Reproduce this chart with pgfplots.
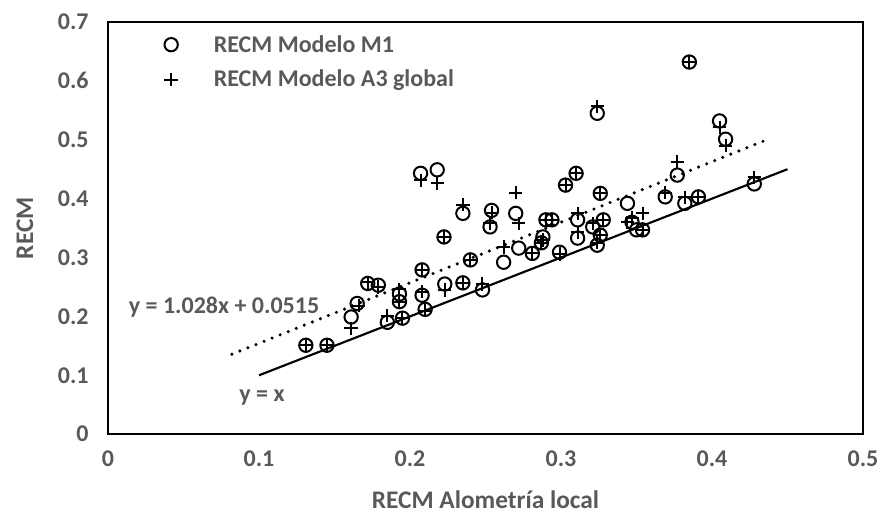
\documentclass[border=0pt]{standalone}
\usepackage{fontspec}
\setmainfont{Carlito}
\usepackage{pgfplots}
\pgfplotsset{compat=1.18}
\definecolor{txt}{HTML}{595959}
\newcommand{\lblfont}{\fontsize{18}{21}\selectfont\bfseries}
\newcommand{\axlblfont}{\fontsize{19}{22}\selectfont\bfseries}

\begin{document}
\begin{tikzpicture}
\useasboundingbox (-81pt,-60pt) rectangle (579.5pt,325.5pt);
\begin{axis}[
    scale only axis,
    width=566pt, height=309pt,
    xmin=0, xmax=0.5, ymin=0, ymax=0.7,
    xtick={0,0.1,0.2,0.3,0.4,0.5},
    ytick={0,0.1,0.2,0.3,0.4,0.5,0.6,0.7},
    major tick length=0pt,
    axis line style={line width=1.6pt},
    /pgf/number format/assume math mode=true,
    /pgf/number format/fixed,
    tick label style={font=\lblfont, text=txt},
    xticklabel style={yshift=-9pt},
    yticklabel style={xshift=-11pt},
    xlabel={RECM Alometría local},
    ylabel={RECM},
    label style={font=\axlblfont, text=txt},
    xlabel style={at={(axis description cs:0.5,-0.16)}, anchor=center},
    ylabel style={at={(axis description cs:-0.11,0.5)}, anchor=center},
    legend style={draw=none, fill=none, font=\lblfont, text=txt,
        at={(axis description cs:0.055,0.975)}, anchor=north west,
        row sep=8pt, inner sep=0pt},
    legend cell align=left,
    legend image code/.code={\path[draw=none, fill=none] (0pt,0pt) -- (46pt,0pt);
        \draw[#1] plot coordinates {(16pt,0pt)};},
]
% RECM Modelo M1
\addplot[only marks, mark=o, mark size=5pt, mark options={line width=1.5pt}] coordinates {
(0.131,0.151) (0.145,0.151) (0.161,0.199) (0.165,0.222) (0.172,0.256)
(0.179,0.253) (0.185,0.190) (0.193,0.238) (0.193,0.225) (0.195,0.197)
(0.208,0.279) (0.208,0.236) (0.210,0.212) (0.207,0.443) (0.218,0.449)
(0.2225,0.335) (0.223,0.255) (0.235,0.257) (0.235,0.375) (0.240,0.296)
(0.248,0.245) (0.254,0.380) (0.253,0.352) (0.262,0.292) (0.270,0.375)
(0.272,0.316) (0.281,0.307) (0.287,0.325) (0.288,0.335) (0.290,0.364)
(0.294,0.364) (0.299,0.309) (0.303,0.423) (0.310,0.443) (0.311,0.364)
(0.311,0.333) (0.321,0.352) (0.324,0.321) (0.326,0.338) (0.328,0.364)
(0.326,0.409) (0.324,0.545) (0.344,0.392) (0.347,0.360) (0.350,0.347)
(0.354,0.347) (0.369,0.403) (0.377,0.440) (0.382,0.392) (0.385,0.632)
(0.391,0.403) (0.405,0.532) (0.409,0.501) (0.428,0.425)
};
\addlegendentry{RECM Modelo M1}
% RECM Modelo A3 global
\addplot[only marks, mark=+, mark size=5pt, mark options={line width=1.5pt}] coordinates {
(0.131,0.151) (0.145,0.151) (0.161,0.180) (0.166,0.218) (0.172,0.258)
(0.179,0.250) (0.185,0.201) (0.193,0.246) (0.193,0.225) (0.195,0.197)
(0.208,0.279) (0.208,0.242) (0.210,0.210) (0.207,0.431) (0.218,0.426)
(0.2225,0.335) (0.223,0.245) (0.235,0.257) (0.235,0.390) (0.240,0.296)
(0.248,0.255) (0.254,0.376) (0.253,0.358) (0.262,0.318) (0.270,0.410)
(0.272,0.358) (0.281,0.307) (0.287,0.325) (0.288,0.330) (0.290,0.364)
(0.294,0.364) (0.299,0.306) (0.303,0.423) (0.310,0.443) (0.311,0.375)
(0.311,0.343) (0.321,0.358) (0.324,0.325) (0.326,0.338) (0.328,0.364)
(0.326,0.409) (0.324,0.557) (0.344,0.360) (0.347,0.367) (0.354,0.375)
(0.354,0.347) (0.369,0.410) (0.377,0.462) (0.382,0.402) (0.385,0.632)
(0.391,0.403) (0.405,0.521) (0.409,0.490) (0.428,0.436)
};
\addlegendentry{RECM Modelo A3 global}
% y = x
\addplot[forget plot, line width=1.6pt] coordinates {(0.1,0.1) (0.45,0.45)};
% trend of A3 global
\addplot[forget plot, line width=2.6pt, line cap=round, dash pattern=on 0pt off 6.5pt]
    coordinates {(0.082,0.1358) (0.438,0.5018)};
\node[font=\lblfont, text=txt] at (axis cs:0.0768,0.216) {y = 1.028x + 0.0515};
\node[font=\lblfont, text=txt] at (axis cs:0.102,0.063) {y = x};
\end{axis}
\end{tikzpicture}
\end{document}
